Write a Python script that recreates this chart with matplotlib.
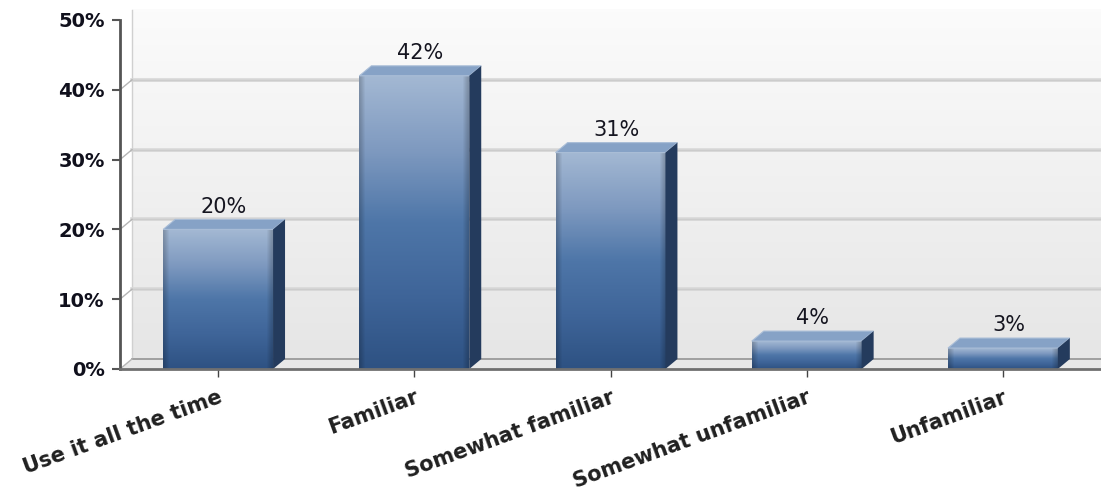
import numpy as np
import matplotlib
matplotlib.use("Agg")
import matplotlib.pyplot as plt
from matplotlib.colors import LinearSegmentedColormap
from matplotlib.patches import Polygon

categories = ["Use it all the time", "Familiar", "Somewhat familiar",
              "Somewhat unfamiliar", "Unfamiliar"]
values = [20, 42, 31, 4, 3]
yticks = [0, 10, 20, 30, 40, 50]

W, H = 1101, 497
fig = plt.figure(figsize=(W / 100, H / 100), dpi=100)
fig.patch.set_facecolor("white")

# front plane of the chart, in pixels
left, right, top, bottom = 120, 1101, 20, 369
ax = fig.add_axes([left / W, (H - bottom) / H, (right - left) / W, (bottom - top) / H])
ax.patch.set_visible(False)
xmin, xmax, ymax = -0.5, len(categories) - 0.5, 50

# depth of the fake 3d, pixels -> data units
DX = 12 / ((right - left) / (xmax - xmin))
DY = 10 / ((bottom - top) / ymax)
far = xmax + 1

# back wall gradient
wall = LinearSegmentedColormap.from_list("wall", ["#fbfbfb", "#e6e6e6"])
ax.imshow(np.linspace(0, 1, 100).reshape(-1, 1), cmap=wall, aspect="auto",
          extent=(xmin + DX, far, DY, ymax + DY), origin="upper",
          zorder=0, clip_on=False, interpolation="bilinear")
ax.plot([xmin + DX, xmin + DX], [DY, ymax + DY], color="#d0d0d0", lw=1,
        zorder=1, clip_on=False)

# floor
ax.add_patch(Polygon([(xmin, 0), (far, 0), (far, DY), (xmin + DX, DY)],
                     closed=True, facecolor="#e8e8e8", edgecolor="none",
                     zorder=1, clip_on=False))
ax.plot([xmin + DX, far], [DY, DY], color="#9a9a9a", lw=1.3, zorder=1.2, clip_on=False)

# grid lines on the back wall and side wall
for g in yticks[1:-1]:
    ax.plot([xmin + DX, far], [g + DY, g + DY], color="#d8d8d8", lw=2.6,
            zorder=1, clip_on=False)
    ax.plot([xmin + DX, far], [g + DY, g + DY], color="#cccccc", lw=1,
            zorder=1, clip_on=False)
for g in yticks[:-1]:
    ax.plot([xmin, xmin + DX], [g, g + DY], color="#b5b5b5", lw=1, zorder=1.3,
            clip_on=False)

# bars: front face with gradient, then top and side faces
x = np.arange(len(categories))
bars = ax.bar(x, values, width=0.56, color="none", edgecolor="none", zorder=3)

stops = ["#a3b8d3", "#7f9ac0", "#4e76a8", "#3f6599", "#2e5283"]
front = LinearSegmentedColormap.from_list("front", stops)
ny, nx = 120, 60
vert = front(np.linspace(0, 1, ny))[:, :3]
edge = np.ones(nx)
edge[:3] = [0.8, 0.86, 0.93]
edge[-3:] = [0.93, 0.86, 0.8]
img = vert[:, None, :] * edge[None, :, None]

for b, v in zip(bars, values):
    x0, x1 = b.get_x(), b.get_x() + b.get_width()
    im = ax.imshow(img, aspect="auto", extent=(x0, x1, 0, v), origin="upper",
                   zorder=3, interpolation="bilinear")
    im.set_clip_path(b)
    ax.add_patch(Polygon([(x0, v), (x1, v), (x1 + DX, v + DY), (x0 + DX, v + DY)],
                         closed=True, facecolor="#86a2c6", edgecolor="#a9bdd7",
                         lw=0.8, zorder=4))
    ax.add_patch(Polygon([(x1, 0), (x1, v), (x1 + DX, v + DY), (x1 + DX, DY)],
                         closed=True, facecolor="#243b5d", edgecolor="none",
                         zorder=4))
    ax.annotate(f"{v}%", (b.get_x() + b.get_width() / 2 + DX / 2, v + DY),
                xytext=(0, 2), textcoords="offset points", ha="center",
                va="bottom", fontsize=15, color="#151520", zorder=5)

ax.set_xlim(xmin, xmax)
ax.set_ylim(0, ymax)

for s in ["top", "right"]:
    ax.spines[s].set_visible(False)
ax.spines["left"].set_color("#555555")
ax.spines["left"].set_linewidth(2)
ax.spines["bottom"].set_color("#707070")
ax.spines["bottom"].set_linewidth(2)
ax.spines["left"].set_zorder(6)
ax.spines["bottom"].set_zorder(6)

ax.set_yticks(yticks)
ax.set_yticklabels([f"{t}%" for t in yticks], fontsize=14, fontweight="bold",
                   color="#10101c")
ax.tick_params(axis="y", direction="out", length=6, width=1.5, color="#555555", pad=5)

ax.set_xticks(x)
ax.set_xticklabels(categories, rotation=20, ha="right", rotation_mode="anchor",
                   fontsize=15, fontweight="bold", color="#202020")
ax.tick_params(axis="x", direction="out", length=6, width=1, color="#444444", pad=7)

fig.savefig("out.png", dpi=100)
